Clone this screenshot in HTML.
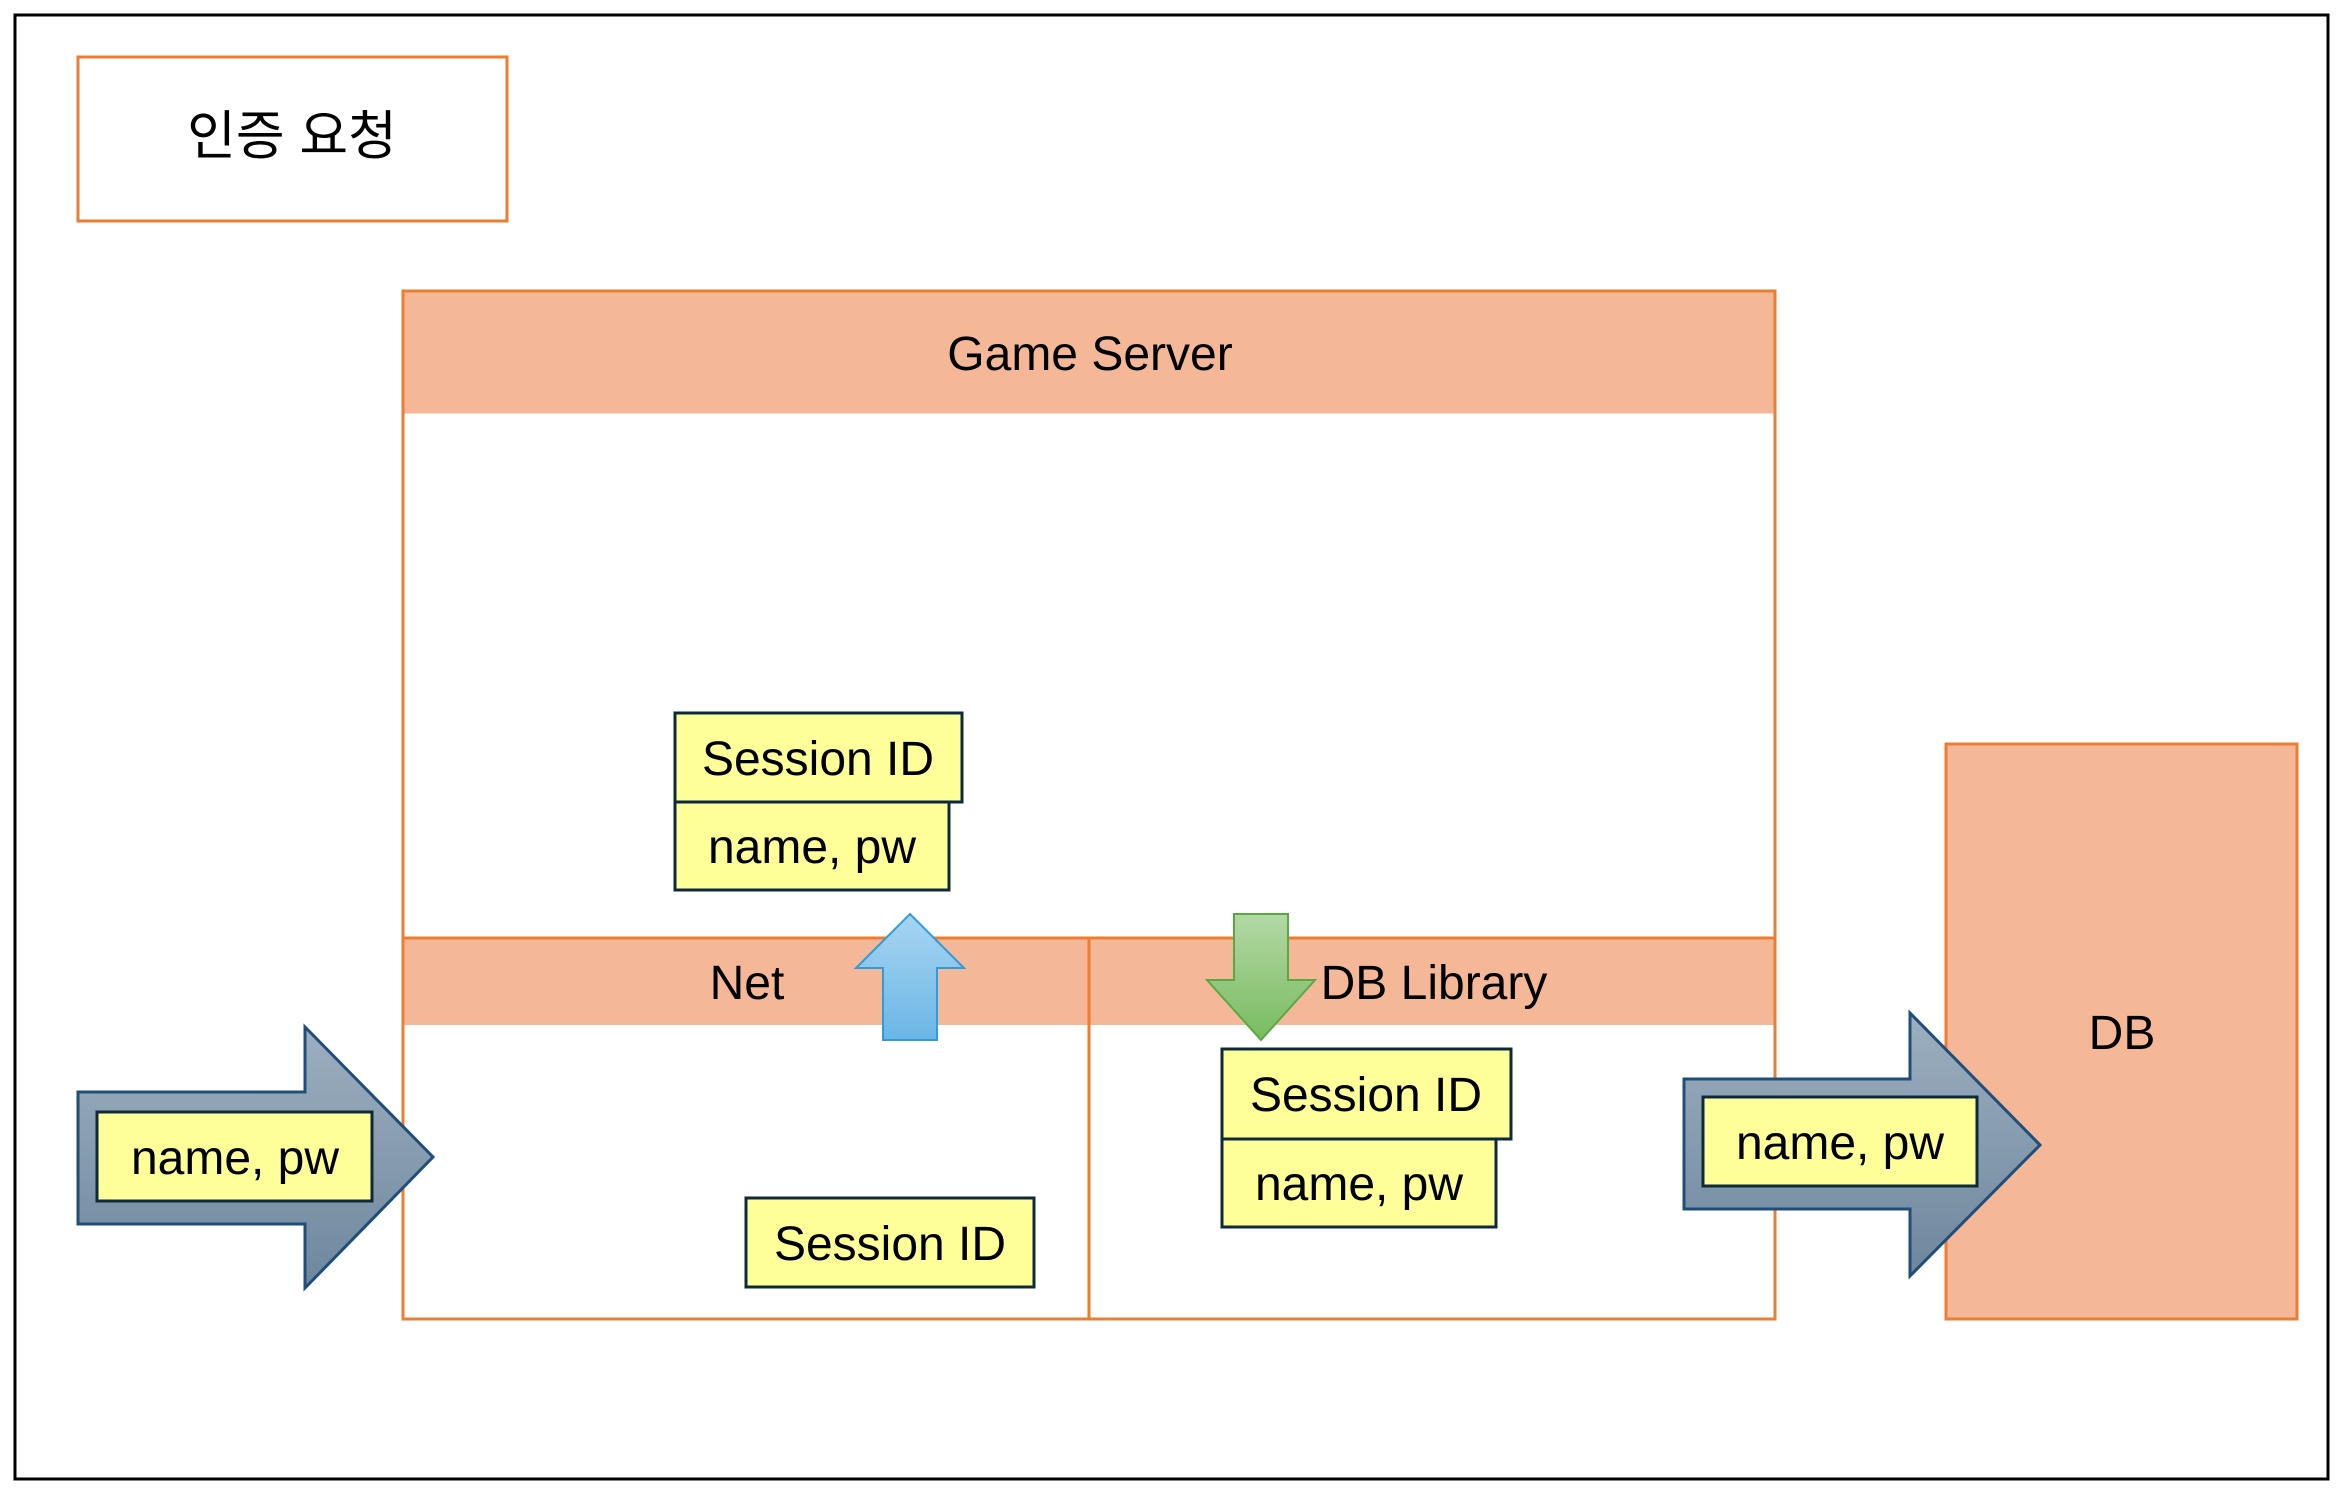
<!DOCTYPE html>
<html><head><meta charset="utf-8"><style>
html,body{margin:0;padding:0;background:#fff;}
svg{display:block;}
text{font-family:"Liberation Sans","Noto Sans CJK KR",sans-serif;fill:#000;}
</style></head><body>
<svg width="2343" height="1490" viewBox="0 0 2343 1490" xmlns="http://www.w3.org/2000/svg">
<defs>
<linearGradient id="ga" x1="0" y1="0" x2="0" y2="1">
<stop offset="0" stop-color="#9DAFC0"/><stop offset="1" stop-color="#6E879D"/></linearGradient>
<linearGradient id="gb" x1="0" y1="0" x2="0" y2="1">
<stop offset="0" stop-color="#A8D5F2"/><stop offset="1" stop-color="#6BB6E6"/></linearGradient>
<linearGradient id="gg" x1="0" y1="0" x2="0" y2="1">
<stop offset="0" stop-color="#B3D8A5"/><stop offset="1" stop-color="#78BC5F"/></linearGradient>
</defs>
<rect x="15" y="15" width="2313" height="1464" fill="#fff" stroke="#000" stroke-width="3"/>
<rect x="78" y="57" width="429" height="164" fill="#fff" stroke="#ED7D31" stroke-width="3"/>
<text x="292" y="154" font-size="53" text-anchor="middle">인증 요청</text>

<rect x="403" y="291" width="1372" height="1028" fill="#fff" stroke="#ED7D31" stroke-width="3"/>
<rect x="404.5" y="292.5" width="1369" height="121" fill="#F4B899"/>
<text x="1090" y="370" font-size="48" text-anchor="middle">Game Server</text>
<rect x="404.5" y="938" width="1369" height="87" fill="#F4B899"/>
<line x1="403" y1="938" x2="1775" y2="938" stroke="#ED7D31" stroke-width="3"/>
<line x1="1089" y1="938" x2="1089" y2="1319" stroke="#ED7D31" stroke-width="3"/>
<text x="747" y="999" font-size="48" text-anchor="middle">Net</text>
<text x="1434" y="999" font-size="48" text-anchor="middle">DB Library</text>

<g stroke="#0E2A3A" stroke-width="3" fill="#FFFF99">
<rect x="675" y="713" width="287" height="89"/>
<rect x="675" y="802" width="274" height="88"/>
<rect x="1222" y="1049" width="289" height="90"/>
<rect x="1222" y="1139" width="274" height="88"/>
<rect x="746" y="1198" width="288" height="89"/>
</g>
<g font-size="48" text-anchor="middle">
<text x="818" y="775">Session ID</text>
<text x="812" y="863">name, pw</text>
<text x="1366" y="1111">Session ID</text>
<text x="1359" y="1200">name, pw</text>
<text x="890" y="1260">Session ID</text>
</g>

<polygon points="883,1040 937,1040 937,968 964,968 910,914 856,968 883,968" fill="url(#gb)" stroke="#2E9BDA" stroke-width="2"/>
<polygon points="1234,914 1288,914 1288,980 1315,980 1261,1040 1207,980 1234,980" fill="url(#gg)" stroke="#5BA843" stroke-width="2"/>

<polygon points="78,1092 305,1092 305,1027 433,1157 305,1288 305,1224 78,1224" fill="url(#ga)" stroke="#1F4E79" stroke-width="3"/>
<rect x="97" y="1112" width="275" height="89" fill="#FFFF99" stroke="#0E2A3A" stroke-width="3"/>
<text x="235" y="1174" font-size="48" text-anchor="middle">name, pw</text>

<rect x="1946" y="744" width="351" height="575" fill="#F4B899" stroke="#ED7D31" stroke-width="3"/>
<text x="2122" y="1049" font-size="48" text-anchor="middle">DB</text>

<polygon points="1684,1079 1910,1079 1910,1013 2040,1145 1910,1276 1910,1209 1684,1209" fill="url(#ga)" stroke="#1F4E79" stroke-width="3"/>
<rect x="1703" y="1097" width="274" height="89" fill="#FFFF99" stroke="#0E2A3A" stroke-width="3"/>
<text x="1840" y="1159" font-size="48" text-anchor="middle">name, pw</text>
</svg>
</body></html>
